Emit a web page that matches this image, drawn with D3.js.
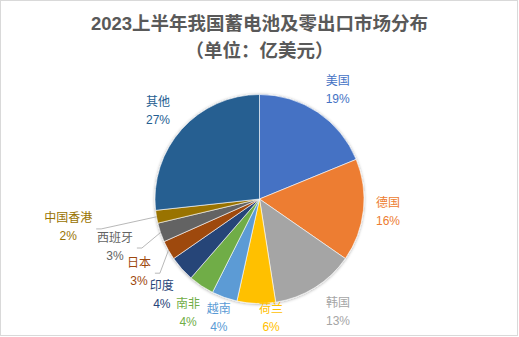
<!DOCTYPE html>
<html>
<head>
<meta charset="utf-8">
<script src="https://cdn.jsdelivr.net/npm/d3@7/dist/d3.min.js"></script>
<style>
  html, body { margin: 0; padding: 0; background: #fff; }
  svg { display: block; }
  text { font-family: "Liberation Sans", "Noto Sans CJK SC", sans-serif; }
</style>
</head>
<body>
<svg id="chart" width="519" height="337"></svg>
<script>
// Export destinations, clockwise from 12 o'clock
const regions = ["美国", "德国", "韩国", "荷兰", "越南", "南非", "印度", "日本", "西班牙", "中国香港", "其他"];
// Share of export value (%)
const shares = [19, 16, 13, 6, 4, 4, 4, 3, 3, 2, 27];
const palette = ["#4472C4", "#ED7D31", "#A5A5A5", "#FFC000", "#5B9BD5", "#70AD47",
                 "#264478", "#9E480E", "#636363", "#997300", "#255E91"];

const titleLines = ["2023上半年我国蓄电池及零出口市场分布", "（单位：亿美元）"];

// Label placement around the pie: angle shift (deg) and distance in radii
const labelShift = [1.6, -0.9, -2.9, -7.4, -0.6, -1.6, -2.6, -1.5, 0.7, 1.5, -0.7];
const labelReach = [1.29, 1.235, 1.31, 1.135, 1.195, 1.28, 1.31, 1.345, 1.455, 1.85, 1.29];
// Labels that sit far enough out to need a leader line
const withLeader = new Set(["日本", "西班牙", "中国香港"]);

const W = 519, H = 337;
const cx = 259.5, cy = 199, R = 104.5;

const svg = d3.select("#chart");

// chart frame
svg.append("rect")
  .attr("x", 0.5).attr("y", 0.5)
  .attr("width", W - 2).attr("height", H - 2)
  .attr("fill", "#fff").attr("stroke", "#d9d9d9");

// title
svg.selectAll("text.title")
  .data(titleLines)
  .join("text")
  .attr("class", "title")
  .attr("x", W / 2)
  .attr("y", (d, i) => 29.5 + i * 27)
  .attr("text-anchor", "middle")
  .attr("font-size", 18.5)
  .attr("font-weight", "bold")
  .attr("fill", "#595959")
  .text(d => d);

const defs = svg.append("defs");
const shadow = defs.append("filter").attr("id", "pieShadow")
  .attr("x", "-20%").attr("y", "-20%").attr("width", "140%").attr("height", "140%");
shadow.append("feDropShadow")
  .attr("dx", 0).attr("dy", 0.5)
  .attr("stdDeviation", 1.8)
  .attr("flood-color", "#000")
  .attr("flood-opacity", 0.35);

const rows = regions.map((name, i) => ({ name, value: shares[i], color: palette[i] }));

const pie = d3.pie().sort(null).value(d => d.value);
const arcs = pie(rows);
const arc = d3.arc().innerRadius(0).outerRadius(R);

const g = svg.append("g").attr("transform", `translate(${cx},${cy})`);

g.append("g")
  .attr("filter", "url(#pieShadow)")
  .selectAll("path")
  .data(arcs)
  .join("path")
  .attr("d", arc)
  .attr("fill", d => d.data.color)
  .attr("stroke", "#fff")
  .attr("stroke-width", 0.6);

// label positions
const deg = Math.PI / 180;
arcs.forEach((a, i) => {
  const mid = (a.startAngle + a.endAngle) / 2;
  const ang = mid + labelShift[i] * deg;
  const r = labelReach[i] * R;
  a.lx = Math.sin(ang) * r;
  a.ly = -Math.cos(ang) * r;
  a.ex = Math.sin(mid) * R;
  a.ey = -Math.cos(mid) * R;
});

const labels = g.append("g").selectAll("g")
  .data(arcs)
  .join("g")
  .attr("transform", d => `translate(${d.lx},${d.ly})`);

labels.append("text")
  .attr("class", "name")
  .attr("text-anchor", "middle")
  .attr("y", -4.5)
  .attr("font-size", 12)
  .attr("fill", d => d.data.color)
  .text(d => d.data.name);

labels.append("text")
  .attr("text-anchor", "middle")
  .attr("y", 13.5)
  .attr("font-size", 12)
  .attr("fill", d => d.data.color)
  .text(d => d.data.value + "%");

// leader lines from label to slice edge
const leaders = arcs.filter(a => withLeader.has(a.data.name));
g.append("g").selectAll("path")
  .data(leaders)
  .join("path")
  .attr("fill", "none")
  .attr("stroke", "#a6a6a6")
  .attr("stroke-width", 0.8)
  .attr("d", d => {
    const half = d.data.name.length * 6;
    const x0 = d.lx + half + 4, y0 = d.ly + 2;
    return d3.line()([[x0, y0], [x0 + 5, y0], [d.ex, d.ey]]);
  });
</script>
</body>
</html>
